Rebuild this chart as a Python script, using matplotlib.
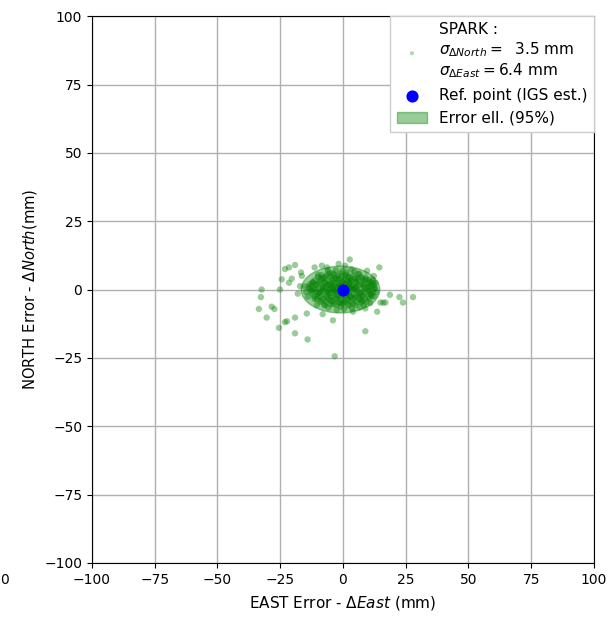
import matplotlib
matplotlib.use("Agg")
import matplotlib.pyplot as plt
from matplotlib.patches import Ellipse

# core points (dense region)
core_east = [-1.2, 0.8, 2.3, -3.1, 4.5, -5.6, 1.7, -2.4, 6.8, -7.9,
             3.3, -0.5, 5.2, -4.4, 8.6, -9.5, 0.3, -1.9, 2.9, -6.3,
             7.4, -10.8, 10.2, -3.7, 4.1, -8.2, 9.1, -12.4, 11.6, -0.9,
             1.4, -5.1, 6.2, -11.3, 12.3, -13.8, -2.8, 3.6, -7.4, 8.3,
             0.1, -0.3, 1.1, -1.6, 2.0, -2.2, 0.6, -0.8, 3.8, -4.0,
             2.6, -3.3, 5.5, -6.1, 4.8, -5.0, 1.9, -2.7, 6.9, -7.3,
             0.9, -1.1, 7.9, -8.8, 3.1, -4.6, 9.8, -10.1, 5.9, -6.7,
             11.0, -12.0, 2.2, -3.9, 8.0, -9.2, -0.2, 0.4, 10.6, -11.6,
             -14.6, 12.8, -13.1, 7.1, -8.6, 4.6, -5.8, -1.4, 1.3, -2.0,
             3.0, -3.6, 0.0, -0.7, 2.4, -4.8, 5.0, -5.4, 6.4, -6.9,
             -15.2, 13.2, -14.0, 11.8, -9.9, 9.4, -2.5, 3.4, -6.0, 6.6,
             -8.5, -6.0, -3.5, -1.0, 1.5, 4.0, 6.5,
             -10.0, -7.7, -5.2, -2.9, -0.4, 2.1, 4.7, 7.2, 9.0,
             -11.2, -8.9, -6.6, -4.1, -1.8, 0.7, 3.2, 5.6, 8.1, 10.3,
             -12.1, -9.6, -7.1, -4.7, -2.3, 0.2, 2.7, 5.1, 7.6, 10.0, 11.9,
             -12.7, -10.3, -8.0, -5.7, -3.4, -1.0, 1.3, 3.7, 6.0, 8.4, 10.8, 12.4,
             -13.3, -10.9, -8.5, -6.2, -3.9, -1.5, 0.8, 3.1, 5.4, 7.8, 10.1, 12.6,
             -12.9, -10.6, -8.2, -5.9, -3.5, -1.2, 1.1, 3.5, 5.8, 8.2, 10.5, 12.0,
             -12.3, -9.9, -7.5, -5.1, -2.8, -0.4, 1.9, 4.3, 6.7, 9.0, 11.3,
             -11.5, -9.1, -6.8, -4.4, -2.0, 0.4, 2.8, 5.2, 7.5, 9.9, 11.5,
             -10.4, -8.0, -5.6, -3.2, -0.8, 1.6, 4.0, 6.4, 8.8, 10.5,
             -9.0, -6.6, -4.2, -1.8, 0.6, 3.0, 5.4, 7.7,
             -7.2, -4.8, -2.4, 0.0, 2.4, 4.8]
core_north = [0.4, -1.1, 1.5, -0.8, 0.2, 1.9, 3.2, -3.5, -1.4, 0.6,
              -2.7, 2.8, 2.9, 3.7, 0.9, -1.2, -4.6, 5.1, 4.4, -3.2,
              -3.8, 1.8, -0.6, -5.4, -5.1, 4.3, 3.6, -0.3, 1.4, -6.2,
              6.3, 6.0, 5.8, -3.4, -2.5, 0.9, 7.1, -6.9, -5.8, -5.6,
              0.1, -0.2, 0.9, 1.3, -0.5, -1.7, 2.1, -2.6, 1.1, 0.3,
              -1.9, 2.2, -0.3, -1.1, -3.0, -2.4, -3.8, 4.0, 1.8, 2.5,
              5.0, -4.9, -2.1, -0.5, 3.4, -4.3, 1.1, -2.3, 4.1, 4.9,
              -1.6, 2.7, -5.9, 5.9, 3.9, 3.1, 6.8, -7.1, 2.8, 0.2,
              -0.9, 0.3, 2.0, -4.7, -4.1, 6.6, -6.6, 3.7, -2.2, 0.8,
              0.5, -0.4, -1.5, 1.7, 2.6, 1.5, 1.0, -0.1, -2.6, 0.9,
              1.2, -1.0, -2.6, 3.5, 5.4, -4.6, -7.4, 7.4, 7.0, -6.5,
              5.3, 5.7, 5.4, 5.8, 5.5, 5.2, 5.6,
              4.6, 4.3, 4.7, 4.4, 4.8, 4.5, 4.2, 4.6, 4.4,
              3.4, 3.7, 3.3, 3.6, 3.5, 3.8, 3.4, 3.6, 3.3, 3.5,
              2.6, 2.3, 2.7, 2.4, 2.5, 2.8, 2.4, 2.6, 2.3, 2.5, 2.6,
              1.4, 1.6, 1.3, 1.7, 1.5, 1.4, 1.6, 1.3, 1.7, 1.5, 1.4, 1.6,
              0.5, 0.4, 0.6, 0.3, 0.7, 0.5, 0.4, 0.6, 0.5, 0.3, 0.6, 0.4,
              -0.5, -0.6, -0.4, -0.7, -0.3, -0.5, -0.6, -0.4, -0.5, -0.7, -0.4, -0.6,
              -1.5, -1.4, -1.6, -1.3, -1.7, -1.5, -1.4, -1.6, -1.5, -1.3, -1.6,
              -2.5, -2.6, -2.4, -2.7, -2.5, -2.3, -2.6, -2.4, -2.5, -2.7, -2.4,
              -3.5, -3.4, -3.6, -3.3, -3.7, -3.5, -3.4, -3.6, -3.5, -3.3,
              -4.5, -4.6, -4.4, -4.7, -4.5, -4.3, -4.6, -4.4,
              -5.5, -5.4, -5.6, -5.3, -5.5, -5.7]

# scattered points (outliers)
out_east = [2.7, -19.1, -21.5, -11.3, -6.4, 14.5, -16.4, -24.4, -20.4, -21.5,
            -32.4, -32.7, -33.5, -28.4, -27.3, -30.4, -25.5, -23.1, -22.3, -19.1,
            -14.1, -19.1, -14.4, -8.1, -4.0, -3.3, 4.0, 8.9, 8.9, 13.6,
            14.9, 16.0, 16.9, 18.7, 22.5, 23.9, 27.9, 12.9, -25.1, -17.1,
            -16.7, -1.7, 0.9, 9.6, 12.3, -8.4, -23.1, 10.9, -10.4, -18.0]
out_north = [11.0, 9.0, 8.1, 8.1, 8.1, 8.1, 5.0, 3.75, 4.0, 2.5,
             0.0, -2.75, -7.1, -6.25, -7.1, -10.25, -14.0, -11.9, -11.6, -16.0,
             -18.25, -10.25, -8.75, -9.0, -11.25, -24.4, -8.1, -15.25, -6.9, -8.1,
             -4.75, -4.75, -4.75, -1.9, -2.75, -4.75, -2.75, 2.5, 0.0, 1.25,
             6.25, 9.4, 8.75, 6.9, 5.0, 8.75, 7.5, -5.0, -5.6, -1.5]

ref_east = [0.0]
ref_north = [0.0]

ell_center = (-1.0, 0.0)
sigma_north = 3.5
sigma_east = 6.4
k95 = 2.4477

fig = plt.figure(figsize=(6.13, 6.21), dpi=100)
ax = fig.add_axes([0.150, 0.0934, 0.819, 0.8806])

ell = Ellipse(ell_center, width=2 * k95 * sigma_east, height=2 * k95 * sigma_north,
              facecolor='green', edgecolor='green', alpha=0.4, zorder=2,
              label='Error ell. (95%)')
ax.add_patch(ell)

label = ("SPARK :\n" + r"$\sigma_{\Delta North}=$  3.5 mm" + "\n" +
         r"$\sigma_{\Delta East}=6.4$ mm")
sc = ax.scatter(core_east + out_east, core_north + out_north, s=21, color='green',
                alpha=0.4, edgecolors='none', zorder=3, label=label)
rp = ax.scatter(ref_east, ref_north, s=60, color='blue', zorder=4,
                label='Ref. point (IGS est.)')

ax.set_xlim(-100, 100)
ax.set_ylim(-100, 100)
ax.set_xticks(range(-100, 101, 25))
ax.set_yticks(range(-100, 101, 25))
ax.grid(True, color='#b0b0b0', linewidth=1.0)
ax.set_axisbelow(True)
ax.set_xlabel(r"EAST Error - $\Delta East$ (mm)", fontsize=11, labelpad=5)
ax.set_ylabel(r"NORTH Error - $\Delta North$(mm)", fontsize=10.6)

leg = ax.legend(handles=[sc, rp, ell], loc='upper right', borderaxespad=0.0,
                fancybox=False, framealpha=1.0, edgecolor='#cccccc',
                markerscale=1.0, fontsize=11)
leg.legend_handles[0].set_sizes([9])
leg.legend_handles[0].set_alpha(0.3)

fig.text(0.0, 1 - 580 / 621, "0", ha='left', va='center', fontsize=10)

fig.savefig("out.png", dpi=100)
